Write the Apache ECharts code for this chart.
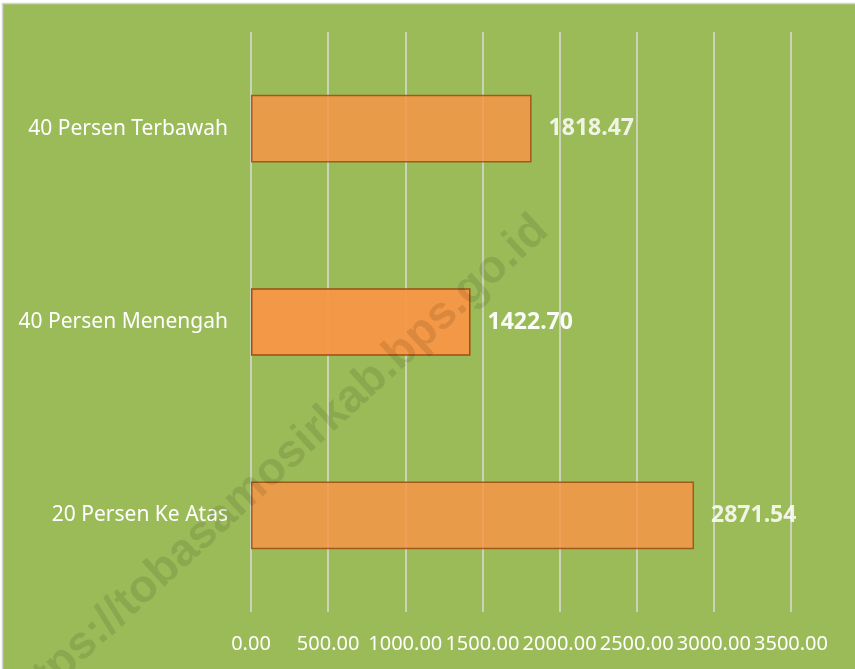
<!DOCTYPE html>
<html>
<head>
<meta charset="utf-8">
<script src="https://cdn.jsdelivr.net/npm/echarts@6/dist/echarts.min.js"></script>
<style>
  html, body { margin: 0; padding: 0; background: #fff; }
  #chart { width: 855px; height: 669px; }
</style>
</head>
<body>
<div id="chart"></div>
<script>
// data
const categories = ['40 Persen Terbawah', '40 Persen Menengah', '20 Persen Ke Atas'];
const values = [1818.47, 1422.70, 2871.54];
const tickMax = 3500;
const tickStep = 500;

const myChart = echarts.init(document.getElementById('chart'));

// the middle bar looks a bit brighter in the original
const barData = values.map((v, i) => ({
  value: v,
  itemStyle: i === 1 ? { opacity: 0.95 } : {}
}));

const option = {
  backgroundColor: '#ffffff',
  animation: false,
  graphic: [
    {
      type: 'rect',
      z: -10,
      shape: { x: 2.5, y: 3.5, width: 900, height: 700 },
      style: { fill: '#9BBB59', stroke: '#d4d4d4', lineWidth: 1.5 }
    },
    {
      // watermark
      type: 'text',
      z: 100,
      x: 275,
      y: 468,
      rotation: 42.5 * Math.PI / 180,
      style: {
        text: 'https://tobasamosirkab.bps.go.id',
        x: 0,
        y: 0,
        align: 'center',
        verticalAlign: 'middle',
        fontFamily: 'Liberation Sans',
        fontWeight: 'bold',
        fontSize: 46,
        fill: 'rgba(0,0,0,0.1)'
      }
    }
  ],
  grid: {
    left: 251,
    right: 64,
    top: 32,
    bottom: 57
  },
  xAxis: {
    type: 'value',
    min: 0,
    max: tickMax,
    interval: tickStep,
    axisLine: { show: false },
    axisTick: { show: false },
    splitLine: { lineStyle: { color: '#dadada', width: 1.5 } },
    axisLabel: {
      color: '#ffffff',
      fontFamily: 'Noto Sans',
      fontSize: 20,
      margin: 22,
      formatter: v => v.toFixed(2)
    }
  },
  yAxis: {
    type: 'category',
    data: categories,
    inverse: true,
    axisLine: { show: false },
    axisTick: { show: false },
    axisLabel: {
      color: '#ffffff',
      fontFamily: 'Noto Sans',
      fontSize: 21,
      margin: 23
    }
  },
  series: [
    {
      type: 'bar',
      z: 2,
      data: barData,
      barWidth: '35%',
      itemStyle: {
        color: '#F79646',
        opacity: 0.84,
        borderColor: '#9C4A0E',
        borderWidth: 1.5
      },
      label: {
        show: true,
        position: 'right',
        distance: 17,
        color: '#ffffff',
        fontFamily: 'Noto Sans',
        fontWeight: 'bold',
        fontSize: 23,
        formatter: p => p.value.toFixed(2)
      }
    }
  ]
};

myChart.setOption(option);
</script>
</body>
</html>
